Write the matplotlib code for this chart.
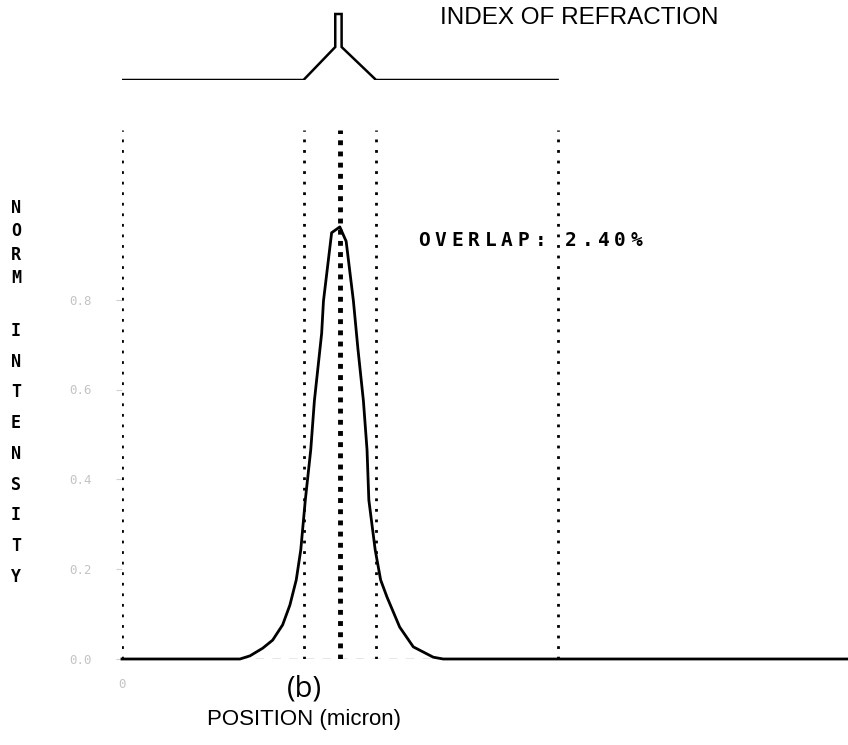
import matplotlib

matplotlib.use("Agg")
import matplotlib.pyplot as plt

# mode intensity profile (position in micron, normalised intensity)
pos_um = [0.0, 1.30, 1.41, 1.55, 1.66, 1.77, 1.85, 1.92, 1.97, 2.02, 2.08, 2.12,
          2.20, 2.22, 2.31, 2.40, 2.47, 2.55, 2.60, 2.66, 2.70, 2.72, 2.79, 2.85,
          2.92, 3.06, 3.21, 3.43, 3.54, 8.0]
intensity = [0.0, 0.0, 0.007, 0.024, 0.042, 0.076, 0.12, 0.176, 0.243, 0.354,
             0.466, 0.575, 0.725, 0.797, 0.949, 0.962, 0.93, 0.797, 0.69, 0.575,
             0.466, 0.354, 0.243, 0.176, 0.138, 0.071, 0.027, 0.004, 0.0, 0.0]

# index of refraction profile drawn above the plot
index_x = [0.0, 2.0, 2.35, 2.35, 2.42, 2.42, 2.8, 4.8]
index_n = [0.0, 0.0, 0.5, 1.0, 1.0, 0.5, 0.0, 0.0]

# layer boundaries (dotted) and core centre
bounds = [0.0, 2.0, 2.8, 4.8]
centre = 2.4
overlap_pct = 2.40

y_ticks = [0.0, 0.2, 0.4, 0.6, 0.8]
y_ticklabels = ["0.0", "0.2", "0.4", "0.6", "0.8"]

W, H = 848, 745
fig = plt.figure(figsize=(W / 100, H / 100), dpi=100)
fig.patch.set_facecolor("white")


def px_box(x0, y0, x1, y1):
    return [x0 / W, 1 - y1 / H, (x1 - x0) / W, (y1 - y0) / H]


ax = fig.add_axes(px_box(122, 120, 848, 659))
ax.set_xlim(0, 8)
ax.set_ylim(0, 1.2)
for s in ax.spines.values():
    s.set_visible(False)

ax.axhline(0, color="#888888", lw=1, ls=(0, (6, 6)), zorder=1)
for b in bounds:
    ax.plot([b, b], [0, 1.178], color="black", lw=2, ls=(0, (1, 2.8)), zorder=2)
ax.plot([centre, centre], [0, 1.178], color="black", lw=3.5, ls=(0, (1, 1.3)), zorder=2)
ax.plot(pos_um, intensity, color="black", lw=2, zorder=3, clip_on=False)

ax.set_yticks(y_ticks)
ax.set_yticklabels(y_ticklabels, family="DejaVu Sans Mono", fontsize=9, color="#c4c4c4")
ax.set_xticks([0])
ax.set_xticklabels(["0"], family="DejaVu Sans Mono", fontsize=9, color="#c4c4c4")
ax.tick_params(axis="y", length=4, color="#d0d0d0", pad=18)
ax.tick_params(axis="x", length=0, pad=14)


def spaced(x, y, s, pitch):
    for i, ch in enumerate(s):
        fig.text((x + i * pitch) / W, 1 - y / H, ch, family="DejaVu Sans Mono",
                 weight="bold", fontsize=14, ha="center", va="center")


spaced(424, 240, "OVERLAP:", 16.6)
spaced(571, 240, f"{overlap_pct:.2f}%", 16.4)

# vertical axis label, one letter per row
for i, ch in enumerate("NORM"):
    fig.text(16 / W, 1 - (208 + i * 23.3) / H, ch, family="DejaVu Sans Mono",
             weight="bold", fontsize=12, ha="center", va="center")
for i, ch in enumerate("INTENSITY"):
    fig.text(16 / W, 1 - (331 + i * 30.75) / H, ch, family="DejaVu Sans Mono",
             weight="bold", fontsize=12, ha="center", va="center")

# refractive index inset
axn = fig.add_axes(px_box(122, 10, 848, 80))
axn.set_xlim(0, 8)
axn.set_ylim(0, 1.0 * 70 / 66)
axn.axis("off")
axn.plot(index_x, index_n, color="black", lw=1.8, solid_joinstyle="miter")
fig.text(440 / W, 1 - 18 / H, "INDEX OF REFRACTION", family="Liberation Sans",
         fontsize=17.5, ha="left", va="center")

fig.text(304 / W, 1 - 689 / H, "(b)", family="Open Sans", fontsize=21, ha="center", va="center")
fig.text(304 / W, 1 - 719 / H, "POSITION (micron)", family="Liberation Sans",
         fontsize=16, ha="center", va="center")

fig.savefig("out.png", dpi=100, facecolor="white")
